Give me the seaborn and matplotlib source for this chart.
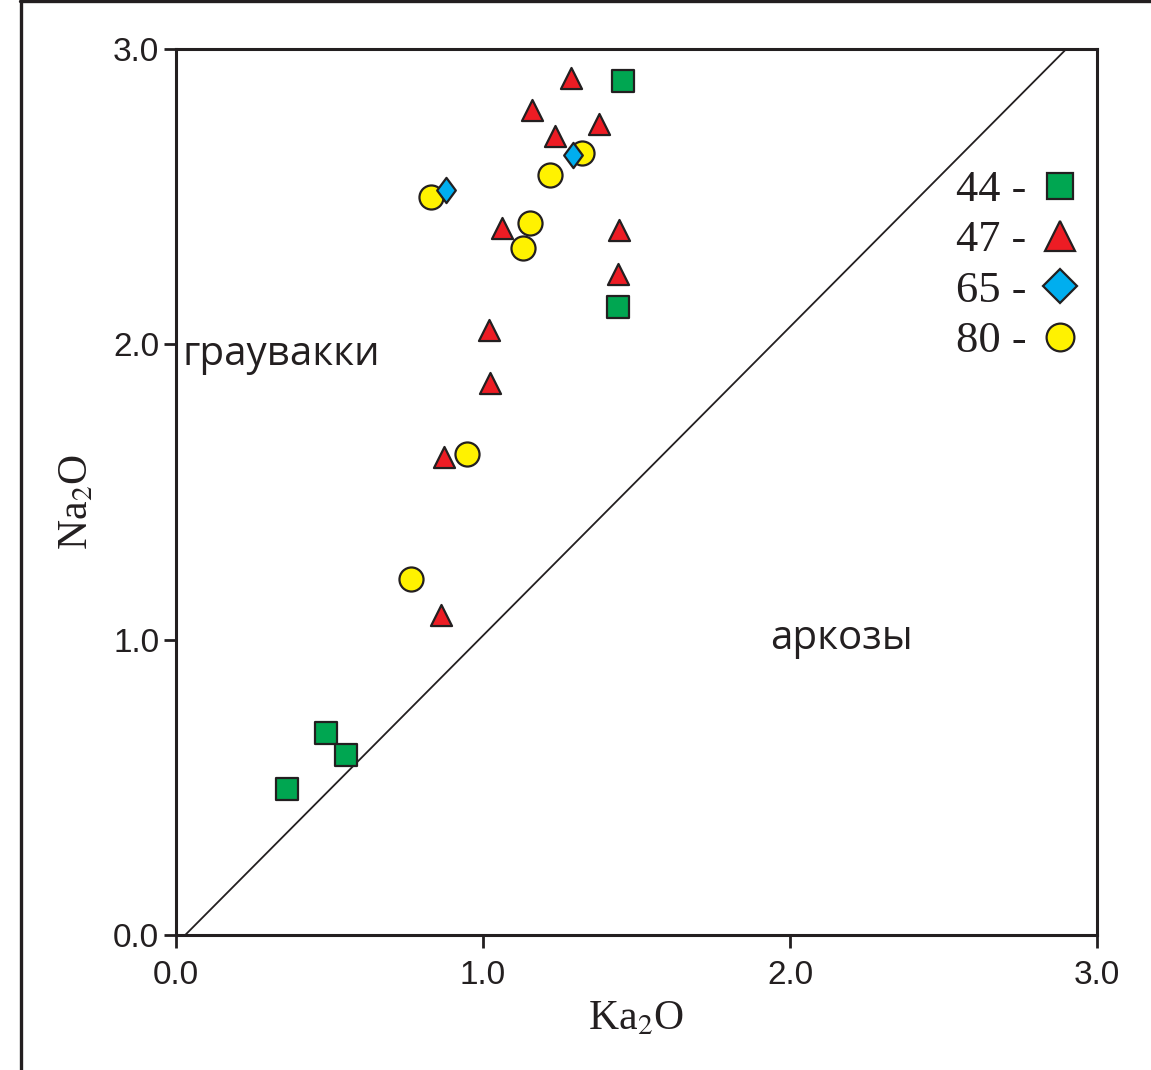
import numpy as np
import pandas as pd
import matplotlib
matplotlib.use("Agg")
import matplotlib.pyplot as plt
from matplotlib.lines import Line2D
from matplotlib.path import Path
import seaborn as sns

# ---- data ----
k2o_44 = [1.456, 1.440, 0.489, 0.554, 0.362]
na2o_44 = [2.892, 2.127, 0.684, 0.610, 0.494]

k2o_47 = [1.287, 1.158, 1.233, 1.378, 1.061, 1.443, 1.439, 1.018, 1.023, 0.873, 0.862]
na2o_47 = [2.902, 2.794, 2.706, 2.746, 2.394, 2.387, 2.238, 2.049, 1.869, 1.619, 1.084]

k2o_65 = [1.294, 0.879]
na2o_65 = [2.640, 2.523]

k2o_80 = [1.321, 0.830, 1.218, 1.153, 1.131, 0.949, 0.765]
na2o_80 = [2.647, 2.500, 2.574, 2.412, 2.327, 1.629, 1.205]

boundary_x = [0.03, 2.90]
boundary_y = [0.0, 3.0]

group_labels = ["44 -", "47 -", "65 -", "80 -"]
ticks = [0.0, 1.0, 2.0, 3.0]
tick_labels = ["0.0", "1.0", "2.0", "3.0"]

# ---- style ----
sns.set_theme(style="white")
plt.rcParams["font.family"] = ["Liberation Sans", "DejaVu Sans"]
plt.rcParams["mathtext.fontset"] = "stix"

GREEN = "#00A651"
RED = "#ED1C24"
BLUE = "#00AEEF"
YELLOW = "#FFF200"
EDGE = "#231F20"

tall_diamond = Path([(0, 1), (0.74, 0), (0, -1), (-0.74, 0), (0, 1)],
                    [Path.MOVETO, Path.LINETO, Path.LINETO, Path.LINETO, Path.CLOSEPOLY])

fig = plt.figure(figsize=(11.51, 10.70), dpi=100)
ax = fig.add_axes([176 / 1151, 1 - 935 / 1070, 921 / 1151, 886 / 1070])

# boundary line
ax.plot(boundary_x, boundary_y, color=EDGE, lw=1.3, zorder=2)

df80 = pd.DataFrame({"x": k2o_80, "y": na2o_80})
df44 = pd.DataFrame({"x": k2o_44, "y": na2o_44})
df47 = pd.DataFrame({"x": k2o_47, "y": na2o_47})
df65 = pd.DataFrame({"x": k2o_65, "y": na2o_65})

common = dict(edgecolor=EDGE, linewidth=1.6, zorder=3, legend=False, ax=ax)
sns.scatterplot(data=df80, x="x", y="y", marker="o", s=300, color=YELLOW, **common)
sns.scatterplot(data=df44, x="x", y="y", marker="s", s=270, color=GREEN, **common)
sns.scatterplot(data=df47, x="x", y="y", marker="^", s=230, color=RED, **common)
sns.scatterplot(data=df65, x="x", y="y", marker=tall_diamond, s=330, color=BLUE, **common)

ax.set_xlim(0, 3.0)
ax.set_ylim(0, 3.0)
ax.set_xticks(ticks)
ax.set_xticklabels(tick_labels)
ax.set_yticks(ticks)
ax.set_yticklabels(tick_labels)
ax.tick_params(axis="both", direction="out", length=9, width=2, color=EDGE,
               labelsize=24, labelcolor=EDGE, bottom=True, left=True,
               top=False, right=False)
ax.tick_params(axis="x", pad=9)
ax.tick_params(axis="y", pad=3)
for sp in ax.spines.values():
    sp.set_visible(True)
    sp.set_linewidth(2.2)
    sp.set_color(EDGE)

serif = ["Liberation Serif", "DejaVu Serif"]
ax.set_xlabel(r"Ka$_2$O", fontsize=30, family=serif, color=EDGE)
ax.set_ylabel(r"Na$_2$O", fontsize=30, family=serif, color=EDGE)
ax.xaxis.set_label_coords(0.5, -0.073)
ax.yaxis.set_label_coords(-0.086, 0.489)

ax.text(0.02, 1.93, "граувакки", fontsize=29, family=["Open Sans", "DejaVu Sans"],
        color=EDGE, ha="left", va="baseline")
ax.text(1.935, 0.968, "аркозы", fontsize=29, family=["Open Sans", "DejaVu Sans"],
        color=EDGE, ha="left", va="baseline")

handles = [
    Line2D([], [], ls="none", marker="s", ms=19, mfc=GREEN, mec=EDGE, mew=1.6),
    Line2D([], [], ls="none", marker="^", ms=22, mfc=RED, mec=EDGE, mew=1.6),
    Line2D([], [], ls="none", marker="D", ms=17, mfc=BLUE, mec=EDGE, mew=1.6),
    Line2D([], [], ls="none", marker="o", ms=20, mfc=YELLOW, mec=EDGE, mew=1.6),
]
ax.legend(handles, group_labels, loc="upper right",
          bbox_to_anchor=((1082 - 176) / 921, (935 - 170) / 886),
          markerfirst=False, frameon=False, borderpad=0, borderaxespad=0,
          handlelength=1.0, handletextpad=0.25, labelspacing=0.23,
          prop={"family": serif, "size": 32}, labelcolor=EDGE)

# outer frame of the figure
fig.add_artist(Line2D([20.5 / 1151, 20.5 / 1151], [0, 1], transform=fig.transFigure,
                      color=EDGE, lw=2.4))
fig.add_artist(Line2D([20 / 1151, 1], [1 - 1.2 / 1070, 1 - 1.2 / 1070],
                      transform=fig.transFigure, color=EDGE, lw=2.4))

fig.savefig("out.png", dpi=100)
